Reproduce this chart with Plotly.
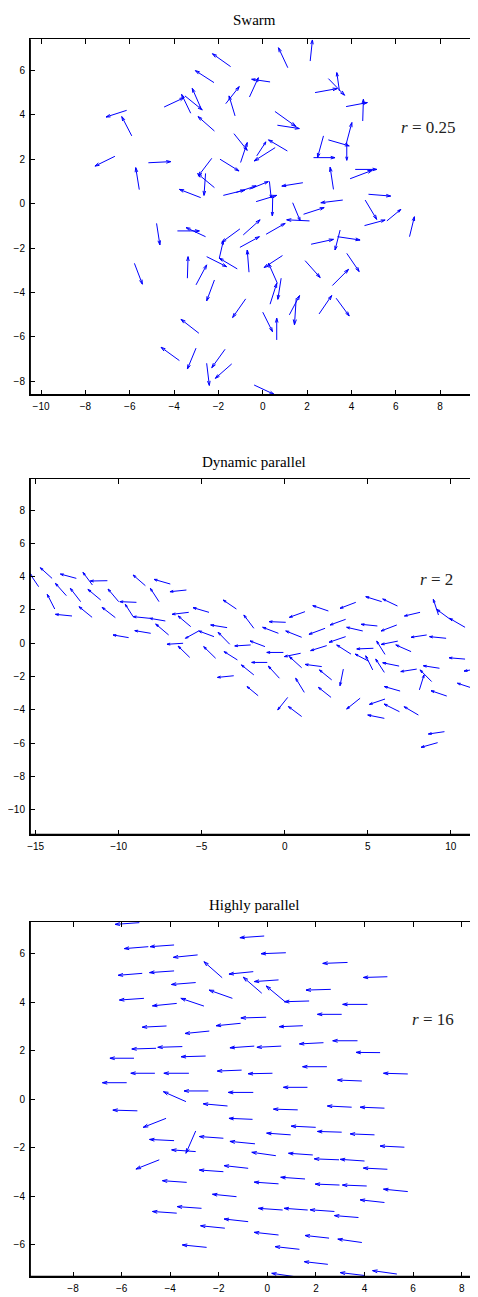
import plotly.graph_objects as go

# ---------------- Panel 1: Swarm (r = 0.25) ----------------
swarm_x = [-1.45,-2.2,-6.14,-5.91,-6.67,-5.57,-5.16,-4.45,-3.25,-3.51,-2.8,-2.18,-1.25,-1.67,0.33,-0.6,-1.3,-1.0,-1.93,-2.3,-2.18,-2.58,-2.8,-1.78,-1.2,-0.6,
           1.13,2.14,2.36,2.96,3.46,3.76,4.51,0.55,0.66,1.11,0.56,-0.27,2.74,2.29,2.96,3.79,3.76,3.94,4.17,3.19,1.81,0.3,0.45,-0.3,1.35,1.84,3.61,4.62,4.77,5.6,6.62,
           -4.79,-3.85,-2.58,-1.03,-1.96,-2.53,-1.15,-0.88,-1.03,-0.62,-5.79,-3.4,-3.01,-2.18,-0.77,-2.88,-3.76,-3.01,-1.7,-2.53,-1.4,-0.39,
           0.15,2.11,4.59,2.18,3.49,3.37,0.89,0.66,0.33,0.83,0.0,0.63,1.2,1.51,1.91,3.14,3.79,2.54,3.31]
swarm_y = [6.17,5.45,4.2,3.05,2.13,0.63,1.84,4.35,4.07,4.85,4.32,3.27,3.95,4.5,5.48,4.8,3.15,1.85,2.0,2.04,0.72,1.36,0.27,0.37,0.5,0.65,
           6.12,6.42,5.0,5.63,5.07,4.37,3.72,4.15,3.53,2.37,2.52,2.15,3.05,2.07,2.87,2.75,2.67,1.12,1.54,0.64,0.94,1.0,0.3,0.09,0.04,-0.48,0.16,0.16,0.42,-0.78,-1.49,
           -0.89,-1.23,-1.49,-1.14,-2.46,-2.39,-2.94,-1.41,-1.97,-3.09,-2.69,-3.36,-3.66,-3.44,-4.29,-5.84,-7.07,-6.51,-6.56,-7.19,-7.22,-8.17,
           -1.38,-0.78,-0.99,-1.83,-1.19,-1.49,-2.34,-3.59,-4.53,-3.36,-4.89,-6.14,-5.01,-4.26,-2.57,-3.69,-2.24,-4.97,-4.26]
swarm_u = [-0.82,-0.84,-0.93,-0.45,-0.9,-0.16,1.01,0.9,-0.41,0.78,-0.38,-0.74,-0.27,0.61,-0.83,0.4,0.6,0.3,0.86,-0.61,-0.76,-0.07,-0.96,0.97,0.9,0.85,
           -0.42,0.1,1.0,0.73,-0.12,0.96,0.03,0.95,0.99,-0.85,-0.95,0.41,-0.27,0.97,0.94,0.0,0.26,1.0,0.98,-0.15,-0.95,0.08,-0.02,0.93,0.34,0.93,-0.99,0.52,1.0,0.63,0.22,
           0.15,0.99,-0.88,-0.82,0.18,0.9,-0.81,0.76,0.88,-0.08,0.36,0.03,0.48,-0.35,-0.59,-0.81,-0.83,-0.39,-0.6,0.12,-0.74,0.9,
           0.86,-1.03,0.93,1.01,-0.23,1.02,-0.83,-0.4,0.3,-0.15,0.44,0.0,0.46,-0.08,0.68,0.73,0.56,0.57,0.59]
swarm_v = [0.58,0.54,-0.3,0.87,-0.44,0.99,0.05,0.42,0.85,-0.63,0.87,0.65,0.9,0.77,0.12,0.87,-0.75,0.9,-0.53,-0.8,0.63,-0.99,0.37,0.24,0.3,0.34,
           0.9,0.95,0.18,-0.75,0.83,0.18,0.98,-0.68,-0.15,0.5,-0.6,0.63,-0.98,0.0,-0.27,-0.8,0.98,0.38,0.0,1.0,-0.15,-0.75,-0.85,0.28,-0.82,0.3,-0.12,-0.87,-0.08,0.52,0.9,
           -0.97,0.0,0.41,-0.6,0.78,-0.45,0.48,0.68,0.48,1.0,-0.94,0.97,0.9,-0.94,-0.84,0.63,0.6,-0.94,-0.83,-1.0,-0.65,-0.42,
           0.49,0.05,0.25,0.22,-0.9,-0.15,-0.54,0.9,0.94,-0.95,-0.88,0.98,0.87,-1.2,-0.76,0.73,-0.82,0.83,-0.8]

# ---------------- Panel 2: Dynamic parallel (r = 2) ----------------
dyn_x = [-14.82,-14.01,-12.55,-11.58,-10.68,-13.15,-12.29,-11.08,-13.85,-12.81,-11.6,-10.2,-10.0,-8.39,-6.89,-7.57,-5.92,-8.93,-9.13,-8.13,-7.19,-6.99,-9.4,-8.07,-5.78,-5.66,-4.56,-6.12,-5.72,-4.26,-5.18,-3.47,-3.31,-4.16,-2.91,-1.86,-2.05,-2.85,-1.86,-3.07,-1.6,-1.05,-1.19,
         2.63,1.22,0.06,-0.38,1.02,2.43,3.67,4.28,5.84,6.79,8.15,9.26,10.86,10.02,5.58,4.7,6.75,8.55,9.72,3.67,2.53,-0.08,0.96,
         3.99,5.34,6.04,6.81,7.61,1.02,2.23,-0.32,2.83,3.53,5.04,5.3,6.0,6.89,7.95,9.32,8.85,8.11,10.86,11.8,11.32,9.76,1.18,2.79,
         0.18,1.02,4.54,6.04,6.95,6.91,8.05,6.0,9.62,9.21]
dyn_y = [3.4,3.9,3.9,3.5,3.76,2.86,2.5,2.6,2.06,1.64,1.56,1.54,2.5,3.46,3.56,2.5,3.2,2.46,1.6,1.5,1.34,0.5,0.34,0.6,1.86,1.0,1.86,0.0,-0.85,0.4,0.74,0.94,-0.06,-0.9,2.06,0.9,-0.1,-1.0,-1.9,-1.95,-3.15,-1.15,-0.2,
         1.94,1.9,1.26,0.6,0.36,0.9,1.44,2.46,2.5,2.24,1.86,1.7,0.96,1.4,1.04,0.74,1.1,0.5,0.3,0.4,-0.14,-0.55,-0.6,
         -0.65,-0.3,-0.67,0.13,-0.5,-1.47,-1.4,-2.1,-2.2,-1.55,-1.07,-1.6,-1.75,-1.37,-1.55,-1.5,-2.3,-2.8,-0.95,-1.5,-2.7,-3.17,-2.95,-3.25,
         -3.25,-4.4,-3.3,-3.35,-2.87,-4.11,-4.31,-4.51,-5.31,-5.97]
dyn_u = [-0.54,-0.71,-0.96,-0.57,-1.03,-0.66,-0.62,-0.77,-0.45,-1.0,-0.79,-0.8,-0.64,-0.74,-0.98,-0.52,-0.99,-1.0,-0.47,-1.0,-0.94,-0.78,-0.94,-0.96,-1.0,-0.76,-0.96,-0.97,-0.7,-0.92,-0.8,-0.99,-0.7,-0.72,-0.8,-0.6,-0.96,-0.8,-0.75,-0.98,-0.67,-0.94,-0.9,
         -0.94,-0.94,-1.0,-0.95,-0.96,-0.97,-0.94,-0.95,-0.96,-0.89,-0.94,-0.31,-0.94,-0.87,-0.98,-0.97,-0.95,-0.94,-1.0,-1.0,-0.97,-1.0,-0.98,
         -0.86,-1.0,-0.5,-1.0,-0.92,-0.74,-1.0,-0.67,-0.74,-0.2,-0.8,-0.42,-0.52,-0.99,-0.96,-0.97,-0.7,0.28,-0.96,-1.0,-0.92,-0.95,-0.52,-0.76,
         -0.6,-0.8,-0.81,-0.94,-0.95,-0.93,-0.86,-1.0,-0.97,-1.0]
dyn_v = [0.8,0.64,0.26,0.76,-0.02,0.74,0.8,0.64,0.88,0.1,0.64,0.62,0.76,0.64,0.28,0.8,-0.1,0.04,0.74,0.1,0.16,0.66,0.16,0.16,-0.12,0.64,0.28,-0.06,0.68,0.34,-0.44,0.16,0.72,0.7,0.54,0.8,-0.06,0.5,0.6,-0.1,0.55,0.0,0.34,
         0.32,-0.34,0.04,0.36,0.38,-0.36,-0.34,-0.36,0.3,0.42,-0.22,0.94,0.54,0.64,0.1,0.22,-0.36,-0.14,0.1,-0.34,-0.3,0.0,-0.2,
         0.55,-0.04,0.8,-0.2,0.4,0.67,0.13,0.73,0.6,-1.0,0.42,0.85,0.8,0.2,-0.15,0.15,0.7,0.9,0.08,-0.17,0.3,0.32,0.85,0.6,
         -0.75,0.6,-0.65,-0.32,0.27,0.46,0.5,0.2,-0.14,-0.28]

# ---------------- Panel 3: Highly parallel (r = 16) ----------------
high_x = [-5.27,-4.9,-3.84,-2.87,-1.86,-0.13,-5.15,-3.84,-0.58,-2.95,-0.23,-5.08,-3.73,-2.61,-1.44,-4.15,-2.39,-1.1,-0.05,-4.58,-3.5,-0.54,-5.49,-2.54,-4.63,-3.23,-1.06,-5.79,0.21,-2.43,-3.35,-0.58,-1.64,
          0.76,3.3,4.94,0.46,2.61,0.73,1.72,4.12,3.06,1.46,3.71,2.31,0.57,4.64,2.45,5.78,3.89,1.65,
          -5.35,-0.61,-4.17,-3.84,-1.81,-0.51,-2.95,-2.95,-4.45,-1.81,-0.79,-3.32,-1.27,-2.71,-3.73,-0.79,-1.75,-2.5,
          1.25,3.47,4.82,1.99,0.96,3.06,4.41,5.64,0.35,1.87,2.95,4.0,4.94,1.55,0.46,2.97,4.09,5.78,4.82,0.63,1.66,2.76,3.75,0.46,2.54,3.89,1.32,2.49,1.14,4.0,5.33]
high_y = [7.28,6.29,6.36,5.95,5.01,6.73,5.19,5.29,5.26,4.81,4.37,4.16,3.95,3.84,4.16,3.02,2.81,3.13,3.38,2.1,2.17,2.19,1.69,1.78,1.07,1.07,1.2,0.68,1.07,0.34,-0.1,0.28,-0.28,
          6.04,5.64,5.05,4.92,4.53,4.02,4.05,3.91,3.5,3.03,2.41,2.33,2.19,1.92,1.34,1.04,0.75,0.49,
          -0.48,-0.83,-0.79,-1.71,-1.61,-1.84,-1.31,-2.16,-2.5,-2.99,-2.85,-3.43,-4.02,-4.5,-4.7,-5.05,-5.32,-6.11,
          -0.44,-0.33,-0.37,-1.16,-1.47,-1.36,-1.47,-1.98,-2.33,-2.3,-2.5,-2.55,-2.89,-3.29,-3.49,-3.54,-3.58,-3.81,-4.26,-4.57,-4.57,-4.63,-4.88,-5.6,-5.73,-5.91,-6.19,-6.81,-7.32,-7.27,-7.21]
high_u = [-1.0,-0.99,-0.99,-1.0,-0.75,-1.0,-0.99,-1.01,-1.0,-1.0,-0.76,-1.01,-1.0,-0.95,-0.96,-1.0,-1.0,-1.01,-1.04,-1.0,-1.01,-1.0,-0.99,-1.01,-0.99,-1.03,-1.0,-1.0,-1.0,-1.0,-0.93,-1.03,-1.0,
          -1.02,-1.02,-0.99,-1.0,-1.02,-0.78,-1.02,-1.02,-1.0,-0.97,-1.02,-0.99,-1.0,-0.99,-1.0,-1.0,-1.0,-0.99,
          -1.01,-0.97,-0.94,-1.01,-0.99,-1.03,-0.4,-0.99,-0.96,-0.99,-0.99,-1.0,-0.99,-1.0,-1.0,-0.99,-1.0,-1.0,
          -1.0,-1.0,-1.0,-1.01,-0.99,-1.0,-1.0,-1.0,-0.99,-1.0,-1.02,-1.0,-0.99,-1.0,-1.0,-1.0,-1.0,-1.0,-1.0,-1.0,-0.97,-1.0,-0.99,-1.0,-0.99,-0.99,-1.0,-0.97,-0.96,-1.0,-1.0]
high_v = [-0.07,-0.08,-0.07,-0.1,0.66,-0.07,-0.08,-0.07,-0.1,-0.08,0.66,-0.07,-0.1,0.32,0.34,-0.05,-0.1,-0.1,-0.03,-0.03,-0.03,-0.07,0.0,-0.03,0.0,0.0,-0.04,0.0,-0.02,0.0,0.41,0.0,0.09,
          -0.04,-0.04,-0.03,-0.07,-0.03,0.65,-0.03,0.0,0.0,-0.04,0.0,-0.05,-0.05,0.01,0.0,0.03,0.04,0.0,
          0.03,0.04,-0.37,0.05,0.07,0.1,-0.92,0.07,-0.38,0.07,0.11,0.07,0.1,0.07,0.07,0.11,0.1,0.1,
          0.03,0.05,0.04,0.05,0.07,0.03,0.04,0.05,0.14,0.07,0.04,0.07,0.05,0.07,0.07,0.04,0.04,0.1,0.11,0.07,0.07,0.07,0.08,0.11,0.11,0.14,0.11,0.11,0.14,0.12,0.14]

titles = ["Swarm", "Dynamic parallel", "Highly parallel"]
r_labels = ["<i>r</i> = 0.25", "<i>r</i> = 2", "<i>r</i> = 16"]
x_ticks = [list(range(-10, 9, 2)), list(range(-15, 11, 5)), list(range(-8, 9, 2))]
y_ticks = [list(range(-8, 7, 2)), list(range(-10, 9, 2)), list(range(-6, 7, 2))]

ALPHA, BETA = 0.2, 0.3  # arrow head size (relative to vector) and half-width


def quiver_paths(xs, ys, us, vs):
    px, py = [], []
    for x, y, u, v in zip(xs, ys, us, vs):
        tx, ty = x + u, y + v
        px += [x, tx, None, tx - ALPHA * (u + BETA * v), tx, tx - ALPHA * (u - BETA * v), None]
        py += [y, ty, None, ty - ALPHA * (v - BETA * u), ty, ty - ALPHA * (v + BETA * u), None]
    return px, py


# The page body keeps its default 8px margin, so the figure is sized to fit the window.
OFF = 8
WIN_W, WIN_H = 478, 1297
W, H = WIN_W - OFF, WIN_H - OFF


def px_x(p):  # page pixel -> paper x
    return (p - OFF) / W


def px_y(p):  # page pixel -> paper y
    return 1 - (p - OFF) / H


panels = [
    dict(data=(swarm_x, swarm_y, swarm_u, swarm_v), xr=[-10.5, 9.71], yr=[-8.62, 7.4],
         ydom=(39.3, 395.0), title_y=20, rpos=(7.46, 3.41)),
    dict(data=(dyn_x, dyn_y, dyn_u, dyn_v), xr=[-15.34, 11.64], yr=[-11.5, 9.87],
         ydom=(479.0, 834.7), title_y=462, rpos=(9.17, 3.86)),
    dict(data=(high_x, high_y, high_u, high_v), xr=[-9.77, 8.67], yr=[-7.32, 7.32],
         ydom=(921.7, 1276.7), title_y=905, rpos=(6.82, 3.27)),
]

fig = go.Figure()
annotations = []
shapes = []
for i, p in enumerate(panels):
    k = "" if i == 0 else str(i + 1)
    px, py = quiver_paths(*p["data"])
    fig.add_trace(go.Scatter(x=px, y=py, mode="lines", xaxis="x" + k, yaxis="y" + k,
                             line=dict(color="rgb(0,0,255)", width=1), hoverinfo="skip",
                             showlegend=False))
    top, bot = p["ydom"]
    axis_common = dict(showline=True, linecolor="black", linewidth=1, mirror="ticks",
                       ticks="inside", ticklen=5, tickcolor="black", tickwidth=1,
                       showgrid=False, zeroline=False, automargin=False,
                       tickfont=dict(family="Liberation Sans, Arial, sans-serif", size=10, color="black"))
    fig.update_layout(**{
        "xaxis" + k: dict(domain=[px_x(30), 1.0], range=p["xr"], anchor="y" + k,
                          tickvals=x_ticks[i], ticklabelstandoff=2, **axis_common),
        "yaxis" + k: dict(domain=[px_y(bot), px_y(top)], range=p["yr"], anchor="x" + k,
                          tickvals=y_ticks[i], ticklabelstandoff=2, **axis_common),
    })
    annotations.append(dict(text=titles[i], xref="paper", yref="paper",
                            x=px_x((30 + WIN_W) / 2), y=px_y(p["title_y"]), showarrow=False,
                            xanchor="center", yanchor="middle",
                            font=dict(family="Liberation Serif, Times New Roman, serif", size=15, color="black")))
    annotations.append(dict(text=r_labels[i], xref="x" + k, yref="y" + k,
                            x=p["rpos"][0], y=p["rpos"][1], showarrow=False,
                            xanchor="center", yanchor="middle",
                            font=dict(family="Liberation Serif, Times New Roman, serif", size=17, color="#222")))
    # heavier left and bottom axis lines
    shapes.append(dict(type="line", xref="x" + k + " domain", yref="y" + k + " domain",
                       x0=0, x1=0, y0=0, y1=1, line=dict(color="black", width=1.8)))
    shapes.append(dict(type="line", xref="x" + k + " domain", yref="y" + k + " domain",
                       x0=0, x1=1, y0=0, y1=0, line=dict(color="black", width=1.8)))

fig.update_layout(width=W, height=H, autosize=False,
                  margin=dict(l=0, r=0, t=0, b=0, autoexpand=False),
                  paper_bgcolor="white", plot_bgcolor="white",
                  annotations=annotations, shapes=shapes, showlegend=False)

fig.write_html("out.html")
